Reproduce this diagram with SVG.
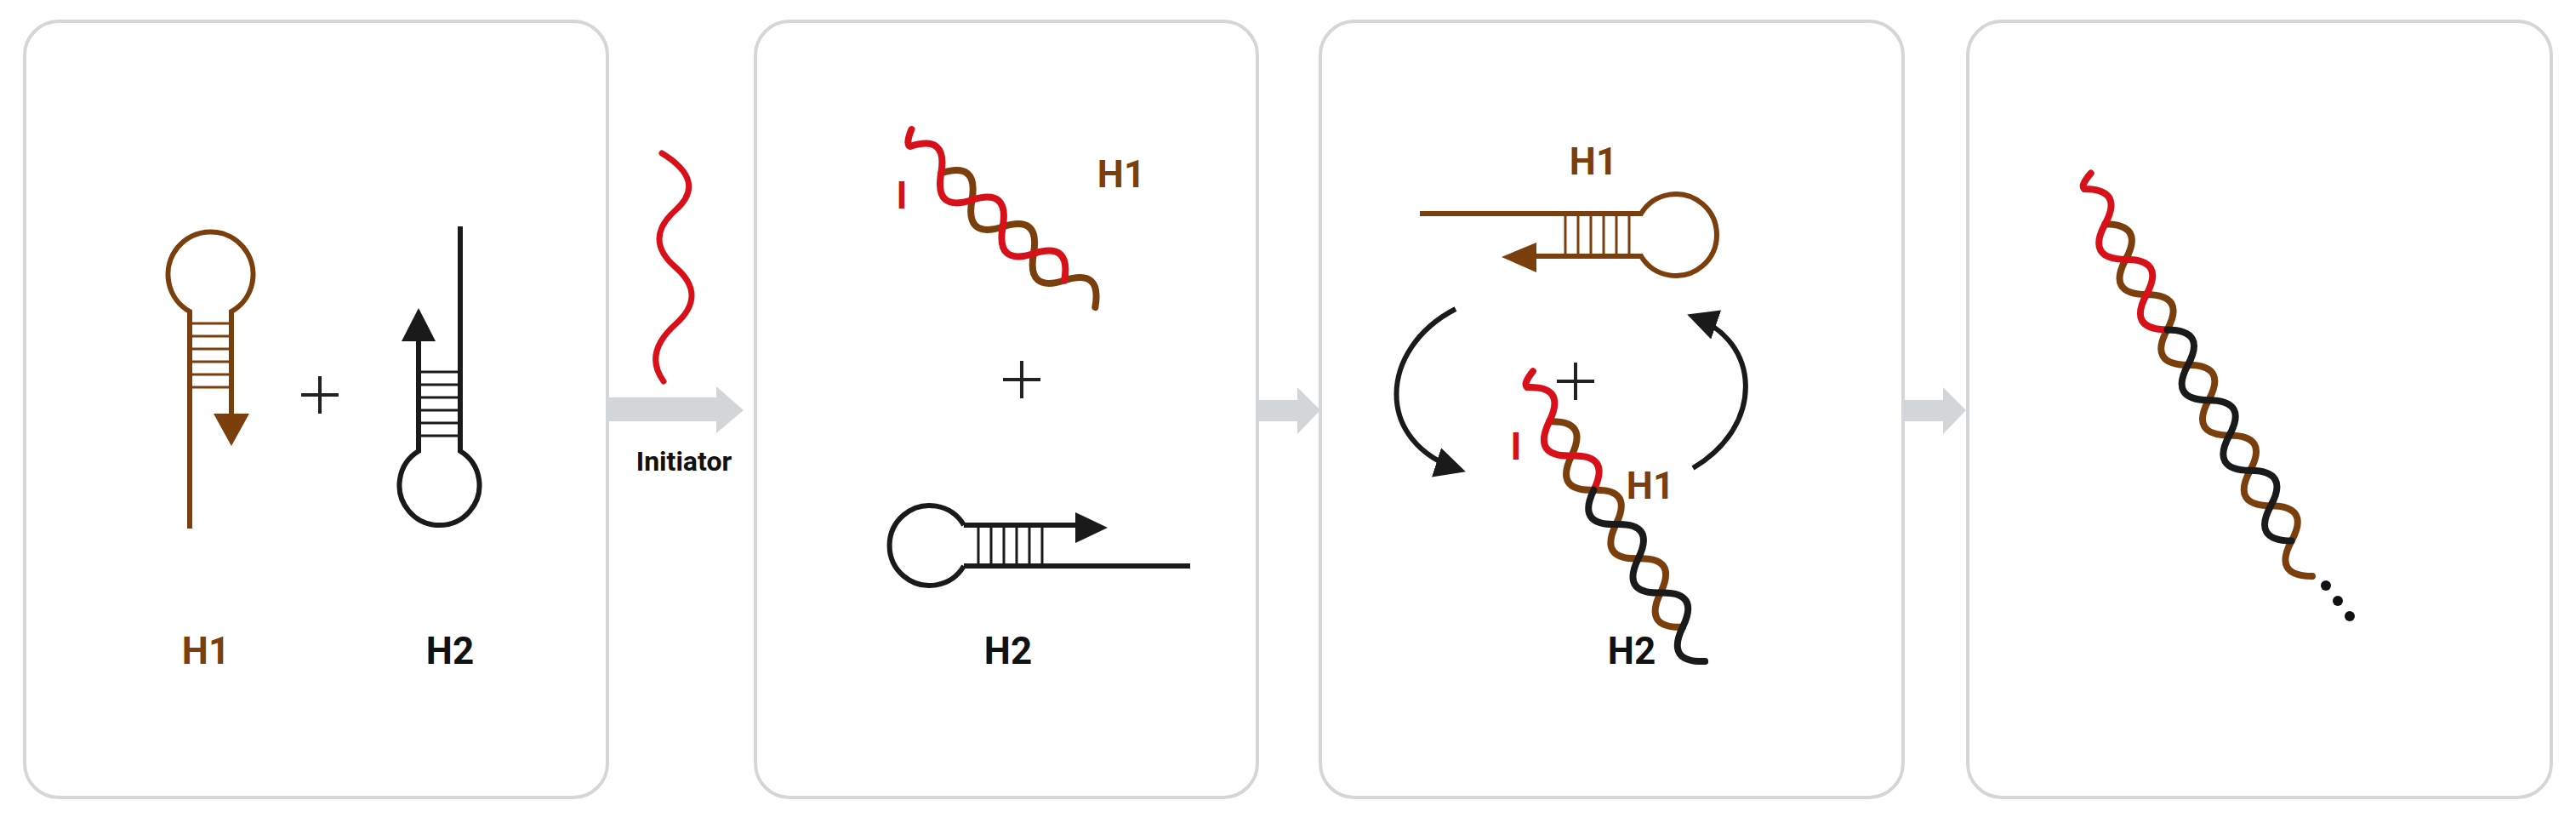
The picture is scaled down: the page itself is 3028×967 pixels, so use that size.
<svg xmlns="http://www.w3.org/2000/svg" width="3028" height="967" viewBox="0 0 3028 967">
<style>
.panel{fill:#fff;stroke:#d4d7da;stroke-width:4}
.br{stroke:#7b3f0e;fill:none;stroke-width:6}
.bk{stroke:#1a1a1a;fill:none;stroke-width:6}
.rd{stroke:#d8101a;fill:none;stroke-width:7;stroke-linecap:round}
.hx{stroke-width:8;fill:none;stroke-linecap:round}
.rung{stroke-width:3}
.lbl{font-family:Roboto,"Liberation Sans",sans-serif;font-weight:bold;font-size:44px;text-anchor:middle}
.plus{stroke:#222;stroke-width:4}
.garrow{fill:#d3d6d9}
</style>
<defs>
<marker id="ah" viewBox="0 0 10 10" refX="8" refY="5" markerWidth="6" markerHeight="6" orient="auto"><path d="M0,0L10,5L0,10z" fill="#1a1a1a"/></marker>
</defs>
<rect fill="#fff" width="3028" height="967"/>
<g id="panel1"><rect class="panel" x="29" y="25" width="685" height="912" rx="40"/></g>
<g id="panel2"><rect class="panel" x="888" y="25" width="590" height="912" rx="40"/></g>
<g id="panel3"><rect class="panel" x="1552" y="25" width="685" height="912" rx="40"/></g>
<g id="panel4"><rect class="panel" x="2313" y="25" width="686" height="912" rx="40"/></g>

<g id="connectors">
<path class="garrow" d="M714,467H842V454L874,482L842,509V495H714z"/>
<path class="garrow" d="M1478,470H1525V455L1552,482L1525,510V495H1478z"/>
<path class="garrow" d="M2237,470H2284V455L2311,482L2284,510V495H2237z"/>
<text class="lbl" x="804" y="553" style="font-size:32px" fill="#111">Initiator</text>
</g>

<g id="h1-hairpin">
<path class="br" d="M223,621V366A50,50 0 1 1 272,366V490"/>
<path d="M251,486H293L272,524z" fill="#7b3f0e"/>
<g class="br rung"><path d="M223,380H272M223,395H272M223,410H272M223,425H272M223,440H272M223,455H272"/></g>
<text class="lbl" x="242" y="780" fill="#7b3f0e">H1</text>
</g>
<g id="plus1"><path class="plus" d="M354,464H398M376,442V486"/></g>
<g id="h2-hairpin">
<path class="bk" d="M541,266V530A47,47 0 1 1 492,530V398"/>
<path d="M472,401H512L492,362z" fill="#1a1a1a"/>
<g class="bk rung"><path d="M492,437H541M492,452H541M492,467H541M492,482H541M492,497H541M492,512H541"/></g>
<text class="lbl" x="529" y="780" fill="#111">H2</text>
</g>

<g id="initiator"><path class="rd" d="M778,180Q832,213 794,247T794,314T794,381T780,448"/></g>

<g id="p2-helix" transform="translate(1070,172) rotate(41)">
<path class="hx" stroke="#7b3f0e" d="M48,0Q72,-40 96,0T144,0T192,0T240,0T288,0"/>
<path class="hx" stroke="#d8101a" d="M-12,-16Q-6,2 0,0Q24,-40 48,0T96,0T144,0T192,0T240,0"/>
</g>
<text class="lbl" x="1060" y="245" fill="#d8101a">I</text>
<text class="lbl" x="1318" y="220" fill="#7b3f0e">H1</text>
<g id="plus2"><path class="plus" d="M1179,446H1223M1201,424V468"/></g>
<g id="p2-h2">
<path class="bk" d="M1133,617H1268M1133,665H1399M1133,617A47,47 0 1 0 1133,665"/>
<path d="M1264,602V638L1302,620z" fill="#1a1a1a"/>
<g class="bk rung"><path d="M1150,617V665M1165,617V665M1180,617V665M1195,617V665M1210,617V665M1225,617V665"/></g>
<text class="lbl" x="1185" y="780" fill="#111">H2</text>
</g>

<g id="p3-h1">
<text class="lbl" x="1873" y="205" fill="#7b3f0e">H1</text>
<path class="br" d="M1669,251H1929A48,48 0 1 1 1929,301H1800"/>
<path d="M1806,285V320L1765,302z" fill="#7b3f0e"/>
<g class="br rung"><path d="M1840,251V301M1855,251V301M1870,251V301M1885,251V301M1900,251V301M1915,251V301"/></g>
</g>
<g id="cycle-arrows">
<path class="bk" marker-end="url(#ah)" d="M1711,363C1620,410 1615,520 1716,552"/>
<path class="bk" marker-end="url(#ah)" d="M1990,550C2075,500 2070,400 1990,372"/>
</g>
<g id="plus3"><path class="plus" d="M1830,448H1874M1852,426V470"/></g>
<g id="p3-helix" transform="translate(1795,455) rotate(57)">
<path class="hx" stroke="#7b3f0e" d="M48,0Q72,-40 96,0T144,0T192,0T240,0T288,0T336,0"/>
<path class="hx" stroke="#d8101a" d="M-12,-16Q-6,2 0,0Q24,-40 48,0T96,0T144,0"/>
<path class="hx" stroke="#1a1a1a" d="M144,0Q168,40 192,0T240,0T288,0T336,0T384,0"/>
</g>
<text class="lbl" x="1782" y="540" fill="#d8101a">I</text>
<text class="lbl" x="1940" y="586" fill="#7b3f0e">H1</text>
<text class="lbl" x="1918" y="780" fill="#111">H2</text>

<g id="p4-helix" transform="translate(2450,222) rotate(59.5)">
<path class="hx" stroke="#7b3f0e" d="M48,0Q72,-40 96,0T144,0T192,0T240,0T288,0T336,0T384,0T432,0T480,0T528,0"/>
<path class="hx" stroke="#d8101a" d="M-12,-16Q-6,2 0,0Q24,-40 48,0T96,0T144,0T192,0"/>
<path class="hx" stroke="#1a1a1a" d="M192,0Q216,-40 240,0T288,0T336,0T384,0T432,0T480,0"/>
</g>
<g id="dots" fill="#111"><circle cx="2734" cy="688" r="6"/><circle cx="2748" cy="706" r="6"/><circle cx="2762" cy="724" r="6"/></g>
</svg>
